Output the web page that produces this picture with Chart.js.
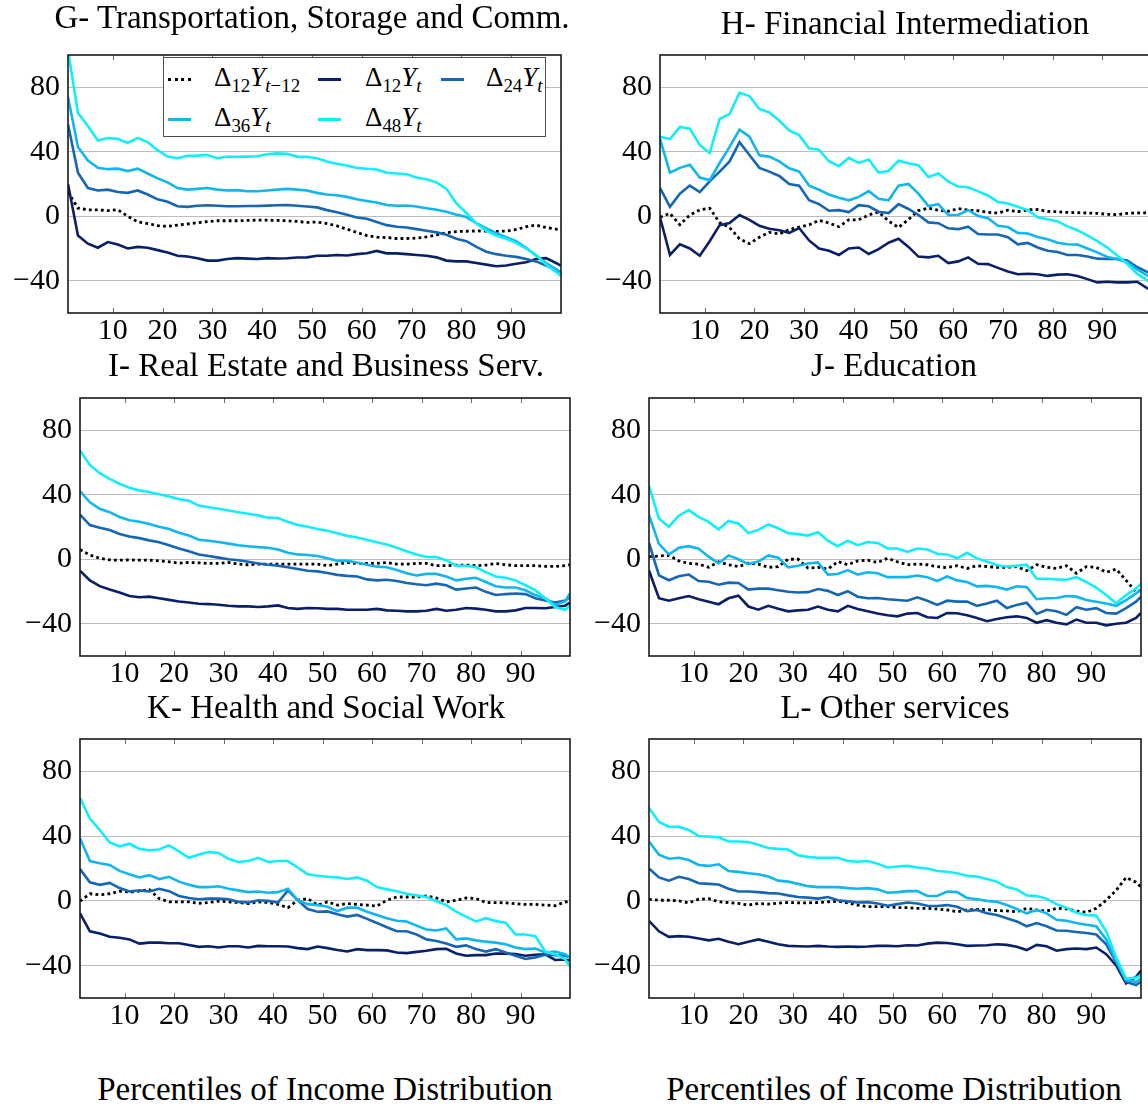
<!DOCTYPE html>
<html><head><meta charset="utf-8">
<script src="https://cdn.jsdelivr.net/npm/chart.js"></script>
<style>
html,body{margin:0;padding:0;width:1148px;height:1107px;overflow:hidden;background:#fff;}
canvas{position:absolute;}
.txt{position:absolute;font-family:'Liberation Serif','Times New Roman',serif;white-space:nowrap;color:#000;}
.ctr{transform:translateX(-50%);}
.lgbox{position:absolute;border:1px solid #4d4d4d;background:#fff;box-sizing:border-box;}
.lgline{position:absolute;height:0;}
sub{font-size:70%;vertical-align:baseline;position:relative;top:0.3em;}
</style></head><body>
<script>
// ---------- data ----------
const percentiles = [1,3,5,7,9,11,13,15,17,19,21,23,25,27,29,31,33,35,37,39,41,43,45,47,49,51,53,55,57,59,61,63,65,67,69,71,73,75,77,79,81,83,85,87,89,91,93,95,97,99,100];
const xTicks = [10,20,30,40,50,60,70,80,90];
const yTicks = [-40,0,40,80];
const seriesNames = ['\u039412Y(t\u221212)','\u039412Y(t)','\u039424Y(t)','\u039436Y(t)','\u039448Y(t)'];
const seriesSub = ['12','12','24','36','48'];
const seriesTimeSub = ['t\u221212','t','t','t','t'];
const panelTitles = ['G- Transportation, Storage and Comm.','H- Financial Intermediation','I- Real Estate and Business Serv.','J- Education','K- Health and Social Work','L- Other services'];
const xAxisTitle = 'Percentiles of Income Distribution';

// G
const G_lag = [15,5,4,4,3.5,4,0,-3.5,-4.5,-5.8,-6.3,-5.5,-4.8,-4,-3.3,-2.8,-2.8,-2.8,-2.6,-2.4,-2.4,-2.6,-2.8,-3.2,-3.8,-3.6,-4.5,-6,-8,-10,-12,-13,-13.2,-13.8,-13.8,-13.6,-12.8,-11.5,-10.2,-9.5,-9.3,-9.1,-9.2,-9.4,-9.2,-8.2,-6.5,-5.5,-7,-8,-8.7];
const G_d12 = [20,-12,-17,-19.5,-16,-17.5,-20,-19,-19.5,-21,-22.5,-24.5,-25,-26,-27.5,-27.5,-26.5,-26,-26.3,-26.5,-26,-26.2,-26,-25.6,-25.5,-24.5,-24.5,-24,-24.3,-23.5,-23,-21.5,-23,-23,-23.5,-24,-24.5,-25.5,-27.5,-28,-28,-29,-30,-31,-30.5,-29.5,-28.5,-26.5,-26,-29,-30.6];
const G_d24 = [57,27,17.5,16,16.5,15,14.5,16,13.5,10.5,9,6.2,5.8,6.5,6.8,6.5,6.2,6.2,6.4,6.4,6.6,6.8,7,6.5,6,5.5,3.8,2.5,1,-0.8,-1.5,-3.5,-5.5,-6.5,-7,-8,-9,-10,-11.5,-14,-15.5,-19,-22,-23.5,-24.5,-25.2,-26.5,-28,-30.5,-33.5,-34.5];
const G_d36 = [74,43,34.5,30,29.2,29.5,28,29.5,26.5,23.5,21,17.5,16.5,17,17.5,16.5,16,16.2,15.5,15.5,16,16.5,17,16.5,16,14.5,13.5,13,12,10.5,9.5,8.5,7,6.5,6.7,6,5,4,2.8,1,-0.5,-4.3,-7.6,-10.5,-13,-15.5,-19.5,-24.5,-29,-32.8,-35];
const G_d48 = [103,64,56,47,48.5,48,45.5,48.5,46,41,37,36,37.5,37.6,38,36,37,36.8,37,37.2,38.5,39,38.8,37,36.8,36,34,32.5,31.5,30,29.5,29,27,26.5,26,24,23,21,17,8,2,-4.5,-9,-12,-14,-16.5,-20,-24,-30,-34.6,-37];
// H
const H_lag = [-0.6,1.8,-5.3,0.8,4,5,-4,-7,-14,-17,-13,-10,-11,-8.3,-6.7,-5.3,-2.5,-4.2,-6.5,-2.2,-2.2,0.8,2.6,-3,-7,-2,3.5,5,3.8,3,4.8,3.8,3.4,2.4,2,3.8,2.8,4,4.2,3,2.8,2.4,2.2,2,1.8,1.2,1,1.8,2,2.2,2.2];
const H_d12 = [-0.6,-24,-17.4,-20,-24.5,-15.5,-5.5,-4.2,0.8,-2.2,-5.9,-7.7,-8.7,-10.3,-7.3,-15,-20,-21.4,-24,-20,-19.4,-23.4,-20.4,-16.4,-14,-19,-25,-25.5,-24.5,-29,-28,-25.5,-29.5,-29.7,-32,-34.3,-36,-35.7,-36,-37,-36.2,-36,-37,-39,-41,-40.6,-41,-41,-40.6,-44.6,-46];
const H_d24 = [17.6,5.9,14,19,15,21.6,27.7,34,45.9,38,30,27.7,25,20,19,9.9,7.5,3.4,3.8,2.6,6.9,6.2,2.8,2,7.5,4.5,0.8,-3.8,-4.3,-7.5,-8,-6.5,-11,-11.3,-11.3,-13,-17.4,-16.5,-19.4,-21.4,-22.2,-24,-24,-25,-26.3,-26.5,-26.5,-27.4,-31.5,-34.5,-35.5];
const H_d36 = [48,27,30,32,24,22.4,33,43,53.7,49.3,37.8,37,34,29.7,27.7,19,16.4,13.5,11.5,9.9,12,15.6,10.9,9.9,19,20,14,6.3,7.5,0.8,0.8,3.8,0.2,-1.2,-5.9,-6.7,-10.3,-10.7,-12.9,-14.3,-16.4,-17.4,-17.6,-20,-22.4,-25.3,-26.5,-28.5,-33,-36.6,-38];
const H_d48 = [49.3,47.9,55.4,54.3,44.2,39.2,60.4,63.4,76.6,74.5,66.5,64.4,59.4,53.3,50.3,42.2,41.2,34.1,31.1,36.2,33.1,35.2,27.1,28.1,34.5,32.9,31.7,24.4,26.5,21.6,18.4,18,15.4,12.9,8.9,7.9,5.9,3.8,-0.6,-1.8,-3.2,-6.3,-8.7,-11.9,-15.4,-19.4,-24.4,-29.5,-35.6,-39.6,-42];
// I
const I_lag = [6,2.6,0.6,-0.4,-0.6,-0.4,-0.6,-0.6,-1,-1.6,-2.4,-2,-2.2,-2.6,-2.6,-2,-3,-3.4,-3,-3,-3,-3,-3,-3,-3,-4,-3,-2,-2.6,-2.6,-2.6,-2,-3,-3,-2.6,-2.6,-4,-4,-3.6,-3.6,-4,-3.6,-2.6,-3.4,-4,-4,-4,-4.4,-4.4,-4,-3.4];
const I_d12 = [-7.1,-13.1,-16.7,-18.8,-20.6,-22.8,-23.6,-23.2,-24.2,-25.2,-26.2,-26.8,-27.6,-27.8,-28.2,-28.8,-29.2,-29.2,-29.6,-29.2,-28.6,-30.2,-30.8,-30.2,-30.4,-30.8,-30.8,-31.3,-31.3,-31.3,-30.8,-31.7,-31.9,-32.3,-32.3,-31.9,-30.8,-31.9,-31.3,-30.2,-30.6,-31.3,-32.3,-32.3,-31.7,-30.2,-30.2,-30.4,-29.6,-28.8,-26.8];
const I_d24 = [27.6,21.2,19.6,18.1,15.7,14.1,13.1,11.7,10.5,8.7,6.7,5,3,2,1,0,-0.6,-1.6,-2.6,-3.4,-4,-5,-6,-7.1,-7.5,-8.5,-9.7,-10.3,-10.7,-12.5,-13.1,-12.7,-13.5,-14.7,-15.5,-16.1,-15.1,-16.1,-18.8,-18.1,-17.5,-20.2,-22.2,-21.6,-21.2,-21.6,-24.2,-25.6,-26.8,-25.6,-23.6];
const I_d36 = [42.3,35.3,31.3,29.2,26.2,24.2,23.2,21.8,20.2,18.8,16.5,14.7,12.1,11.5,10.7,9.7,8.7,8.1,7.5,7.1,6,4,3,2.6,2,0.6,-1,-1,-2,-3.4,-4.6,-5,-6.7,-8.7,-10.1,-9.1,-9.1,-10.7,-13.1,-12.1,-11.5,-14.1,-16.7,-17.5,-17.5,-19.2,-22.2,-24.2,-28.2,-26.2,-21.2];
const I_d48 = [67.5,58.5,53.4,49.8,46.8,44.4,42.7,41.7,40.3,38.9,37.3,36.3,33.3,32.3,31.3,30.2,29.2,28.2,27.2,25.8,25.6,23.2,21.2,20.2,18.8,17.7,16.1,14.5,13.5,12.1,10.5,9.1,7.1,5,3,1.4,1.4,-0.6,-4,-4,-5,-8,-10.7,-11.5,-13.1,-16.1,-19.2,-24.2,-29.6,-31.3,-28.8];
// J
const J_lag = [1.6,2,2.4,-1,-2.6,-3,-5,-1.6,-3.4,-4.6,-2.4,-3,-5,-4.6,0,0,-5.5,-5,-6.1,-1.4,-3.4,-1,-0.6,-2,0.6,-1.6,-3.4,-3,-3.4,-4.6,-5.2,-4,-5.7,-4,-4.5,-5,-5,-4.6,-7.1,-3.4,-5,-5.7,-4,-8.7,-4.6,-5,-8.1,-6.1,-13.1,-20.2,-19.2];
const J_d12 = [-7,-24.2,-25.7,-24.2,-22.8,-24.8,-26.3,-27.9,-24.2,-22.6,-29.3,-31.3,-28.9,-30.7,-32.3,-31.7,-31.3,-29.3,-31.3,-32.3,-28.9,-30.9,-32.3,-33.7,-34.7,-35.4,-33.7,-33.3,-36,-36.4,-33.3,-33.5,-34.7,-36.4,-38.4,-37,-36,-35.4,-36.4,-39.4,-37.8,-39.4,-40.4,-37.4,-39.4,-39.4,-41,-40,-39.4,-36.4,-33.3];
const J_d24 = [10.1,-10,-13,-10.5,-9.5,-13.5,-14,-15.8,-14.5,-14.7,-18.8,-18.2,-18.2,-19.2,-20.2,-20.6,-20.4,-18.5,-19.6,-22.2,-19.8,-23.2,-24.2,-24,-24.8,-25.3,-25.7,-23.6,-25.7,-28.3,-25.7,-26.3,-26.3,-28.9,-27.5,-25.7,-30.3,-28.3,-27,-33.9,-31.3,-32.3,-34.5,-29.7,-31.3,-30.3,-33.3,-33.7,-30.3,-26.3,-23.2];
const J_d36 = [27.3,9.5,3,7.1,8.1,6.5,1.6,-2.6,2.4,0,-3,-1.4,2.4,1,-5,-4,-2.6,-2,-9.5,-9.1,-6.7,-9.5,-8.1,-8.7,-11.1,-11.1,-11.1,-10.1,-11.1,-13.5,-10.7,-13.1,-14.1,-16.8,-16.5,-17.2,-18.8,-16.8,-17.2,-24.8,-24.2,-24,-22.8,-23.2,-25.3,-26.3,-27.5,-28.9,-25.3,-21.2,-18.8];
const J_d48 = [45.5,25.3,20.2,27,30.5,26.3,23.2,18.6,23.8,22.2,16.2,18.2,21.6,19.2,16.2,15.6,14.7,16.8,11.5,8.1,11.5,8.7,10.7,10.1,6.7,6.7,4.6,6.7,6.1,3.4,3,0.6,4,0.6,-1.4,-3.6,-4.6,-4,-3.4,-12.1,-12.1,-12.5,-12.7,-11.1,-14.1,-17.6,-22.2,-27.3,-22.2,-18.2,-15.2];
// K
const K_lag = [-0.2,4.4,3.8,4.4,6,5.4,6,6.9,1.4,-0.6,-0.6,-0.6,-1.6,-1,-0.2,-0.6,-1,-1.6,-0.6,-1,-2.2,-4.2,0.4,1.4,-2.6,-0.6,-2.6,-1.6,-2.2,-2.6,-3.2,0.4,2.4,2.4,2.4,3,1.8,-0.6,0.4,1.8,1.4,-1,-1.1,-1.2,-1.7,-2.2,-2.2,-2.6,-3,-0.6,-0.6];
const K_d12 = [-7.7,-18.8,-20.2,-22.2,-22.8,-23.8,-26.4,-25.8,-25.8,-26.2,-26.2,-27.2,-28.4,-28,-28.8,-28,-28,-28.8,-27.8,-28,-28,-28.2,-29.2,-29.8,-28.2,-29.2,-30.4,-31.3,-29.8,-30.4,-30.4,-30.6,-31.9,-32.3,-31.5,-30.8,-29.8,-29.6,-32.5,-33.9,-33.5,-33.5,-32.5,-32.6,-32.8,-33.9,-33.3,-33,-36.5,-36.2,-36.9];
const K_d24 = [19.6,11.5,9.9,11.1,7.9,5.8,6.5,5.8,7.5,6,3,1.8,1,1.4,1.5,1,-0.6,-1,0.4,0,-1,6.5,0.4,-5,-6.7,-6.5,-8.3,-9.7,-8.7,-11.1,-13.7,-16.3,-18.8,-18.8,-20.8,-23.8,-24.8,-26.4,-28.4,-27.5,-29.8,-31.3,-29.8,-31.9,-33.9,-35.9,-34.9,-33.3,-33.5,-33.9,-34.9];
const K_d36 = [38.7,24.6,23.2,22.2,18.5,16.5,14.5,15.9,13.5,14.9,11.9,9.9,8.5,8.5,9,7.5,6.5,5.4,5.8,5,5.4,7.5,0.4,-2,-2.6,-3.6,-6.3,-4.2,-4.2,-6.7,-8.7,-10.7,-12.3,-12.7,-15.3,-17.7,-18.3,-17,-23.8,-23.2,-24.4,-25.2,-25.8,-26.8,-28.8,-29.8,-29.4,-31.9,-31.3,-32.9,-34.9];
const K_d48 = [63.5,50.8,43.8,36.1,33.7,35.3,32.1,31.3,31.7,34.3,30.6,26.6,28.6,30.2,29.6,26,24,24.6,26.6,24,24.6,24.6,20.6,16.5,15.5,14.9,14.5,13.5,14.5,12.5,8.5,7.1,6,4.4,3.4,2.4,-0.2,-2.6,-6.7,-9.7,-12.7,-10.7,-12.5,-13.5,-20.8,-20.8,-21.8,-31.3,-32.9,-35.9,-40.5];
// L
const L_lag = [1,0.4,0.4,0,-1.2,1,1.4,-0.6,-1,-1.6,-2.6,-1.6,-2,-1.4,-1,-1.2,-1.2,-1,-0.6,-0.2,-1.2,-2.6,-3.6,-3.6,-3.6,-4.2,-4.2,-4.6,-4.6,-5,-5.6,-6.7,-5.6,-5.2,-5.4,-6,-6.2,-6.7,-4.6,-5.6,-6.3,-4.6,-5,-6.3,-7.1,-4.6,0.4,6.5,14.5,11.5,8.5];
const L_d12 = [-12.3,-18.8,-22.2,-21.8,-22.2,-23.2,-24.4,-23.4,-25.2,-26.8,-25.2,-23.8,-25.2,-26.8,-27.8,-28,-28.2,-27.8,-28.2,-28.4,-28.2,-28.4,-28.2,-27.8,-27.8,-28,-27.4,-27.6,-26.4,-25.8,-26,-26.8,-27.8,-27.6,-27.4,-26.8,-27.2,-28.4,-30.4,-27.2,-28,-30.8,-29.8,-29.4,-29.8,-28.8,-32.9,-39.9,-51,-47,-43];
const L_d24 = [20,14.5,12.5,14.9,13.5,10.9,10.5,10.1,7.5,5.8,5.8,5.4,4.8,4.6,3.4,2.4,2,1.4,2.4,0.4,-0.3,-1,-0.8,-1.6,-3,-2,-1,-1.6,-3,-3.2,-2.6,-3.6,-6.3,-5.6,-7.7,-8.7,-10.7,-12.7,-15.7,-13.7,-15.7,-18.3,-18.5,-19.2,-19.8,-20.8,-26.8,-37.9,-50,-52,-50];
const L_d36 = [36.7,28.6,26,26.6,25.2,22.2,21.6,22.6,18.5,17.9,17.1,16.5,15.1,12.5,11.9,10.5,9.1,8.5,8.5,8.5,7.9,7.5,7.9,7.1,5,5.4,6,6,3,3,5.8,5.4,1.8,1,0,-0.6,-2.6,-5,-7.7,-5.6,-7.7,-11.7,-12.3,-13.7,-14.7,-15.7,-23.8,-36.9,-49,-50,-48];
const L_d48 = [57.5,48.8,45.8,45.8,43.8,40.1,39.7,39.3,36.7,36.7,36.3,34.7,32.7,32.1,31.7,28.2,27.2,26.6,26.6,26.6,24.6,24.2,24.6,23,20.6,21.2,21.6,20.6,20,18.5,18,17.1,15.5,15.1,13.5,11.9,8.5,7.1,3.4,3,1.4,-2,-4.2,-7.3,-8.7,-9.1,-18.8,-34.9,-48,-47.4,-46];

// ---------- styling / layout ----------
const FONT = "'Liberation Serif', 'Times New Roman', serif";
const seriesColors = ['#000000','#0b1f66','#1666b4','#12b6ee','#12eef8'];
const AX_W = 66, AX_H = 50, PAD_T = 20, PAD_R = 20;

const panels = [
  {title:panelTitles[0], left:68,  top:49,  w:493, h:264, tx:312, tb:29,  series:[G_lag,G_d12,G_d24,G_d36,G_d48]},
  {title:panelTitles[1], left:660, top:49,  w:492, h:264, tx:905, tb:35,  series:[H_lag,H_d12,H_d24,H_d36,H_d48]},
  {title:panelTitles[2], left:80,  top:392, w:490, h:264, tx:326, tb:377, series:[I_lag,I_d12,I_d24,I_d36,I_d48]},
  {title:panelTitles[3], left:649, top:392, w:492, h:264, tx:894, tb:377, series:[J_lag,J_d12,J_d24,J_d36,J_d48]},
  {title:panelTitles[4], left:80,  top:733, w:490, h:265, tx:326, tb:719, series:[K_lag,K_d12,K_d24,K_d36,K_d48]},
  {title:panelTitles[5], left:649, top:733, w:492, h:265, tx:895, tb:719, series:[L_lag,L_d12,L_d24,L_d36,L_d48]}
];

const framePlugin = {
  id:'frame',
  afterDatasetsDraw(chart){
    const {ctx, chartArea:a} = chart; const x = chart.scales.x;
    ctx.save();
    ctx.strokeStyle = '#707070'; ctx.lineWidth = 1;
    xTicks.forEach(v => {
      const px = Math.round(x.getPixelForValue(v)) + 0.5;
      ctx.beginPath();
      ctx.moveTo(px, a.top); ctx.lineTo(px, a.top + 5);
      ctx.moveTo(px, a.bottom); ctx.lineTo(px, a.bottom - 5);
      ctx.stroke();
    });
    ctx.strokeStyle = '#1a1a1a'; ctx.lineWidth = 1.6;
    ctx.strokeRect(a.left, a.top, a.right - a.left, a.bottom - a.top);
    ctx.restore();
  }
};

function addText(html, x, baseline, size, center){
  const d = document.createElement('div');
  d.className = 'txt' + (center ? ' ctr' : '');
  d.style.fontSize = size + 'px';
  d.style.lineHeight = size + 'px';
  d.style.left = x + 'px';
  d.style.top = (baseline - 0.838 * size) + 'px';
  d.innerHTML = html;
  document.body.appendChild(d);
  return d;
}

panels.forEach(p => {
  const cv = document.createElement('canvas');
  const W = p.w + AX_W + PAD_R, H = p.h + PAD_T + AX_H;
  cv.width = W; cv.height = H;
  cv.style.width = W + 'px'; cv.style.height = H + 'px';
  cv.style.left = (p.left - AX_W) + 'px'; cv.style.top = (p.top - PAD_T) + 'px';
  document.body.appendChild(cv);
  new Chart(cv, {
    type: 'line',
    data: {
      datasets: p.series.map((vals, i) => ({
        label: seriesNames[i],
        data: percentiles.map((xv, j) => ({x: xv, y: vals[j]})),
        borderColor: seriesColors[i],
        borderWidth: i === 0 ? 2.8 : 2.6,
        borderDash: i === 0 ? [2.8, 3.2] : [],
        pointRadius: 0, fill: false, tension: 0,
        order: 5 - i
      }))
    },
    options: {
      responsive: false, animation: false,
      layout: {padding: {left: 0, top: PAD_T, right: PAD_R, bottom: 0}, autoPadding: false},
      plugins: {legend: {display: false}, tooltip: {enabled: false}, title: {display: false}},
      scales: {
        x: {
          type: 'linear', min: 1, max: 100,
          afterBuildTicks: s => { s.ticks = xTicks.map(v => ({value: v})); },
          afterFit: s => { s.height = AX_H; },
          grid: {display: false, drawTicks: false},
          border: {display: false},
          ticks: {font: {family: FONT, size: 30}, color: '#000', padding: 0, maxRotation: 0, autoSkip: false}
        },
        y: {
          type: 'linear', min: -60, max: 100,
          afterBuildTicks: s => { s.ticks = yTicks.map(v => ({value: v})); },
          afterFit: s => { s.width = AX_W; },
          grid: {color: '#bdbdbd', lineWidth: 1, drawTicks: false},
          border: {display: false},
          ticks: {font: {family: FONT, size: 30}, color: '#000', padding: 8,
                  callback: v => String(v).replace('-', '\u2212')}
        }
      }
    },
    plugins: [framePlugin]
  });
  addText(p.title, p.tx, p.tb, 33, true);
});

// bottom axis titles
addText(xAxisTitle, 325, 1101, 33, true);
addText(xAxisTitle, 894, 1101, 33, true);

// legend (inside panel G)
const box = document.createElement('div');
box.className = 'lgbox';
Object.assign(box.style, {left:'163px', top:'57px', width:'383px', height:'80px'});
document.body.appendChild(box);
const legendPos = [
  {lx:168, ly:79,  tx:214, tb:87},
  {lx:318, ly:79,  tx:365, tb:87},
  {lx:441, ly:79,  tx:486, tb:87},
  {lx:168, ly:119, tx:214, tb:127},
  {lx:318, ly:119, tx:365, tb:127}
];
legendPos.forEach((lp, i) => {
  const ln = document.createElement('div');
  ln.className = 'lgline';
  Object.assign(ln.style, {left: lp.lx + 'px', top: (lp.ly - 1.5) + 'px', width: '23px',
    borderTop: '3px ' + (i === 0 ? 'dotted ' : 'solid ') + seriesColors[i]});
  document.body.appendChild(ln);
  const html = '\u0394<sub>' + seriesSub[i] + '</sub><i>Y</i><sub>' +
    seriesTimeSub[i].replace('t', '<i>t</i>') + '</sub>';
  addText(html, lp.tx, lp.tb, 27, false);
});
</script>
</body></html>
